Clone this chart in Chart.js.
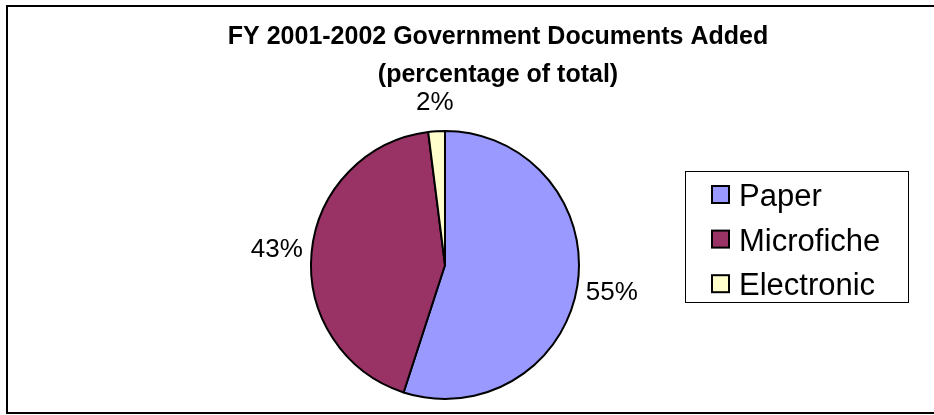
<!DOCTYPE html>
<html>
<head>
<meta charset="utf-8">
<title>FY 2001-2002 Government Documents Added</title>
<script src="https://cdn.jsdelivr.net/npm/chart.js@4.4.0/dist/chart.umd.min.js"></script>
<style>
  html, body { margin: 0; padding: 0; background: #fff; }
  #docsChart { display: block; }
</style>
</head>
<body>
<canvas id="docsChart" width="934" height="415"></canvas>
<script>
const docTypes = ['Paper', 'Microfiche', 'Electronic']
const docPercents = [55, 43, 2]
const sliceColors = ['#9999FF', '#993366', '#FFFFCC']
const titleLines = ['FY 2001-2002 Government Documents Added', '(percentage of total)']

const fontFamily = '"Liberation Sans", Arial, sans-serif'

// frame, title, outside labels and the boxed legend (Excel style)
const excelLook = {
  id: 'excelLook',
  beforeDraw(chart) {
    const ctx = chart.ctx
    ctx.save()
    ctx.fillStyle = '#fff'
    ctx.fillRect(0, 0, chart.width, chart.height)
    ctx.strokeStyle = '#000'
    ctx.lineWidth = 2
    ctx.strokeRect(7, 6, chart.width, 407)
    ctx.restore()
  },
  afterDatasetsDraw(chart) {
    const ctx = chart.ctx
    const meta = chart.getDatasetMeta(0)
    ctx.save()
    ctx.fillStyle = '#000'
    ctx.font = '26px ' + fontFamily
    ctx.textAlign = 'center'
    ctx.textBaseline = 'middle'
    meta.data.forEach((arc, i) => {
      const p = arc.getProps(['x', 'y', 'startAngle', 'endAngle', 'outerRadius'], true)
      const mid = (p.startAngle + p.endAngle) / 2
      const dist = p.outerRadius + 29 + 6 * Math.abs(Math.cos(mid))
      ctx.fillText(docPercents[i] + '%', p.x + Math.cos(mid) * dist, p.y + Math.sin(mid) * dist + 1)
    })

    // title
    ctx.font = 'bold 25px ' + fontFamily
    ctx.textBaseline = 'alphabetic'
    ctx.fillText(titleLines[0], 498, 44)
    ctx.fillText(titleLines[1], 498, 82)

    // legend
    ctx.lineWidth = 1
    ctx.strokeStyle = '#000'
    ctx.strokeRect(685.5, 171.5, 223, 131)
    ctx.textAlign = 'left'
    ctx.font = '31px ' + fontFamily
    docTypes.forEach((name, i) => {
      const base = 206 + i * 44.6
      ctx.fillStyle = sliceColors[i]
      ctx.fillRect(712, base - 20, 17, 17)
      ctx.lineWidth = 2
      ctx.strokeRect(712, base - 20, 17, 17)
      ctx.fillStyle = '#000'
      ctx.fillText(name, 739, base)
    })
    ctx.restore()
  }
}

new Chart(document.getElementById('docsChart'), {
  type: 'pie',
  data: {
    labels: docTypes,
    datasets: [{
      data: docPercents,
      backgroundColor: sliceColors,
      borderColor: '#000',
      borderWidth: 2
    }]
  },
  options: {
    responsive: false,
    animation: false,
    layout: {
      padding: { top: 130, bottom: 15, left: 300, right: 344 }
    },
    plugins: {
      legend: { display: false },
      title: { display: false },
      tooltip: { enabled: false }
    }
  },
  plugins: [excelLook]
})
</script>
</body>
</html>
